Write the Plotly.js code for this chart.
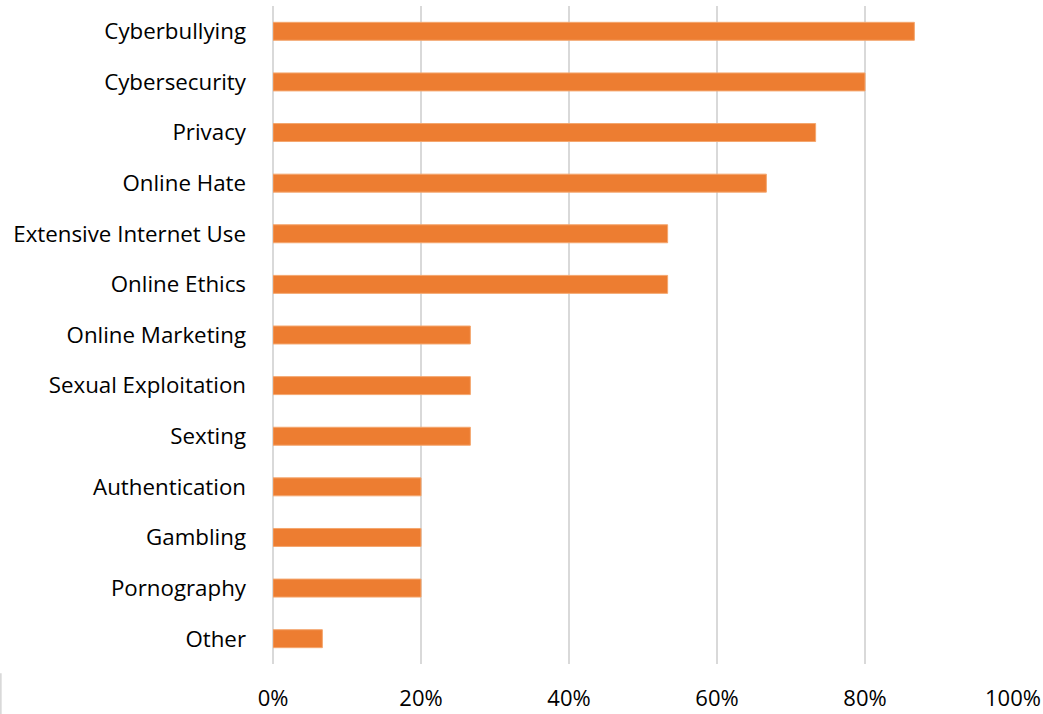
<!DOCTYPE html>
<html>
<head>
<meta charset="utf-8">
<script src="https://cdn.plot.ly/plotly-3.0.1.min.js"></script>
<style>html,body{margin:0;padding:0;background:#fff;}#chart{width:1043px;height:714px;}</style>
</head>
<body>
<div id="chart"></div>
<script>
const categories = ["Cyberbullying","Cybersecurity","Privacy","Online Hate","Extensive Internet Use","Online Ethics","Online Marketing","Sexual Exploitation","Sexting","Authentication","Gambling","Pornography","Other"];
const shares = [0.8667,0.80,0.7333,0.6667,0.5333,0.5333,0.2667,0.2667,0.2667,0.20,0.20,0.20,0.0667];
const xTicks = [0,0.2,0.4,0.6,0.8,1.0];
const xTickLabels = ["0%","20%","40%","60%","80%","100%"];

const FONT = "Open Sans, Noto Sans, sans-serif";
const trace = {
  type: "bar",
  orientation: "h",
  y: categories,
  x: shares,
  marker: {color: "#ED7D31", line: {color: "#F4A66E", width: 1}},
  hoverinfo: "x+y"
};
const layout = {
  width: 1043, height: 714,
  margin: {l: 273, r: 30, t: 6, b: 50},
  paper_bgcolor: "#fff", plot_bgcolor: "#fff",
  showlegend: false,
  bargap: 0.645,
  font: {family: FONT, size: 22, color: "#000"},
  xaxis: {
    range: [0, 1],
    tickvals: xTicks, ticktext: xTickLabels,
    showgrid: true, gridcolor: "#D9D9D9", gridwidth: 2,
    zeroline: true, zerolinecolor: "#D9D9D9", zerolinewidth: 2,
    showline: false, ticks: "",
    ticklabelstandoff: 19,
    tickfont: {family: FONT, size: 22, color: "#000"},
    fixedrange: true
  },
  yaxis: {
    type: "category",
    autorange: "reversed",
    showgrid: false, zeroline: false, showline: false, ticks: "",
    ticklabelstandoff: 26,
    tickfont: {family: FONT, size: 22.3, color: "#000"},
    fixedrange: true
  },
  shapes: [{type: "line", xref: "paper", yref: "paper", x0: -0.368, x1: -0.368, y0: -0.014, y1: -0.08,
            line: {color: "#D9D9D9", width: 2}}]
};
Plotly.newPlot("chart", [trace], layout, {displayModeBar: false, staticPlot: true});
</script>
</body>
</html>
